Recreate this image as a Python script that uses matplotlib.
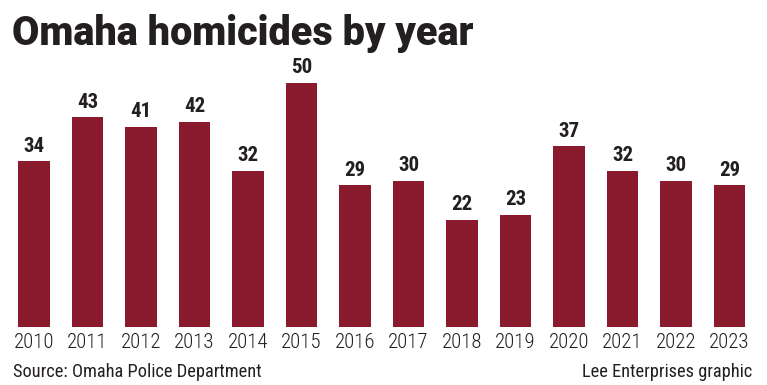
import matplotlib
matplotlib.use("Agg")
import matplotlib.pyplot as plt

years = ["2010", "2011", "2012", "2013", "2014", "2015", "2016",
         "2017", "2018", "2019", "2020", "2021", "2022", "2023"]
homicides = [34, 43, 41, 42, 32, 50, 29, 30, 22, 23, 37, 32, 30, 29]

bar_color = "#8a1a2d"
text_color = "#231f20"
narrow = ["Roboto Condensed", "Roboto", "DejaVu Sans"]
heavy = ["Roboto", "DejaVu Sans"]

W, H = 767, 385
fig = plt.figure(figsize=(W / 100, H / 100), dpi=100)

# axes placed in pixel terms: baseline at y=327, value 50 at y=83
x0 = -34 / 53.5
x1 = (W - 34) / 53.5
ax = fig.add_axes([0, (H - 327) / H, 1, 244 / H])
ax.set_xlim(x0, x1)
ax.set_ylim(0, 50)
ax.axis("off")

xs = range(len(years))
ax.bar(xs, homicides, width=0.58, color=bar_color)

for x, v, yr in zip(xs, homicides, years):
    ax.annotate(str(v), (x, v), xytext=(0, 4), textcoords="offset points",
                ha="center", va="bottom", fontsize=15, fontweight="bold",
                family=narrow, color=text_color)
    ax.annotate(yr, (x, 0), xytext=(0, -4), textcoords="offset points",
                ha="center", va="top", fontsize=15, fontweight="light",
                family=narrow, color=text_color)

fig.text(12 / W, 1 - 45 / H, "Omaha homicides by year", fontsize=28.5,
         fontweight=900, family=heavy, color=text_color,
         ha="left", va="baseline")
fig.text(13 / W, 1 - 372 / H, "Source: Omaha Police Department",
         fontsize=13.2, family=narrow, color=text_color, ha="left", va="center")
fig.text(752 / W, 1 - 372 / H, "Lee Enterprises graphic",
         fontsize=13.2, family=narrow, color=text_color, ha="right", va="center")

fig.savefig("out.png", dpi=100)
